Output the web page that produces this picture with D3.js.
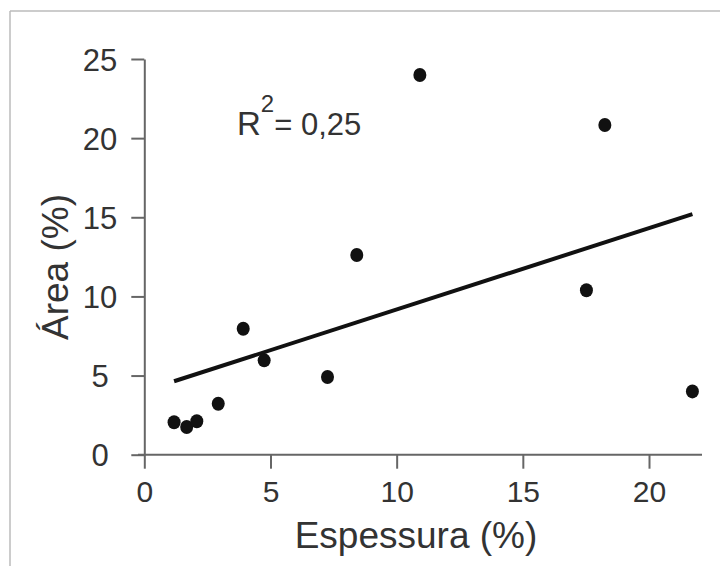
<!DOCTYPE html>
<meta charset="utf-8">
<style>
	body { margin: 0; background: white; }
	text { font-family: "Liberation Sans", Arial, sans-serif; fill: #333; }
	.axis path, .axis line { stroke: #666; stroke-width: 2; }
</style>
<script src="https://d3js.org/d3.v7.min.js"></script>
<body>
<script>

	// espessura (%) vs área (%)
	var espessura = [1.18, 1.68, 2.08, 2.93, 3.92, 4.75, 7.26, 8.42, 10.92, 17.52, 18.25, 21.72];
	var area      = [2.05, 1.75, 2.11, 3.22, 7.96, 5.96, 4.91, 12.62, 23.99, 10.39, 20.83, 4.0];

	// fitted line, two ends
	var trendX = [1.18, 21.72];
	var trendY = [4.64, 15.2];

	var xTicks = [0, 5, 10, 15, 20];
	var yTicks = [0, 5, 10, 15, 20, 25];

	var width = 720, height = 566;

	var svg = d3.select("body")
				.append("svg")
				.attr("width", width)
				.attr("height", height);

	// thin frame on top and left
	svg.append("line").attr("x1", 10).attr("y1", 11).attr("x2", width).attr("y2", 11)
		.style("stroke", "#bbb").style("stroke-width", 1.5);
	svg.append("line").attr("x1", 10).attr("y1", 11).attr("x2", 10).attr("y2", height)
		.style("stroke", "#bbb").style("stroke-width", 1.5);

	var xScale = d3.scaleLinear().domain([0, 22.1]).range([144.3, 702]);
	var yScale = d3.scaleLinear().domain([0, 25]).range([454.7, 59]);

	var xAxis = svg.append("g")
		.attr("class", "axis")
		.attr("transform", "translate(0," + yScale(0) + ")")
		.call(d3.axisBottom(xScale).tickValues(xTicks).tickSizeInner(14).tickSizeOuter(0).tickPadding(12));
	xAxis.select(".domain").attr("d", "M138," + 0 + "H" + xScale.range()[1]);
	xAxis.selectAll("text").style("font-size", "30px").style("fill", "#333");

	var yAxis = svg.append("g")
		.attr("class", "axis")
		.attr("transform", "translate(" + xScale(0) + ",0)")
		.call(d3.axisLeft(yScale).tickValues(yTicks).tickSizeInner(13).tickSizeOuter(0));
	yAxis.selectAll(".tick text")
		.attr("x", 100 - xScale(0))
		.attr("dy", "0.36em")
		.style("text-anchor", "middle")
		.style("font-size", "31px")
		.style("fill", "#333");

	// axis titles
	svg.append("text")
		.attr("x", 416)
		.attr("y", 548)
		.style("text-anchor", "middle")
		.style("font-size", "37px")
		.text("Espessura (%)");

	svg.append("text")
		.attr("transform", "translate(68,267) rotate(-90)")
		.style("text-anchor", "middle")
		.style("font-size", "37px")
		.text("Área (%)");

	// regression line
	svg.append("line")
		.attr("x1", xScale(trendX[0]))
		.attr("y1", yScale(trendY[0]))
		.attr("x2", xScale(trendX[1]))
		.attr("y2", yScale(trendY[1]))
		.style("stroke", "#111")
		.style("stroke-width", 4);

	// points
	svg.append("g")
		.selectAll("ellipse")
		.data(espessura)
		.enter()
		.append("ellipse")
		.attr("cx", function(d) { return xScale(d); })
		.attr("cy", function(d, i) { return yScale(area[i]); })
		.attr("rx", 6.5)
		.attr("ry", 7)
		.style("fill", "#111");

	// R squared label
	var r2 = svg.append("text")
		.attr("x", 237)
		.attr("y", 135);
	r2.append("tspan").style("font-size", "33px").text("R");
	r2.append("tspan").attr("dy", -23).style("font-size", "24px").text("2");
	r2.append("tspan").attr("dy", 23).style("font-size", "31px").text("= 0,25");

</script>
</body>
